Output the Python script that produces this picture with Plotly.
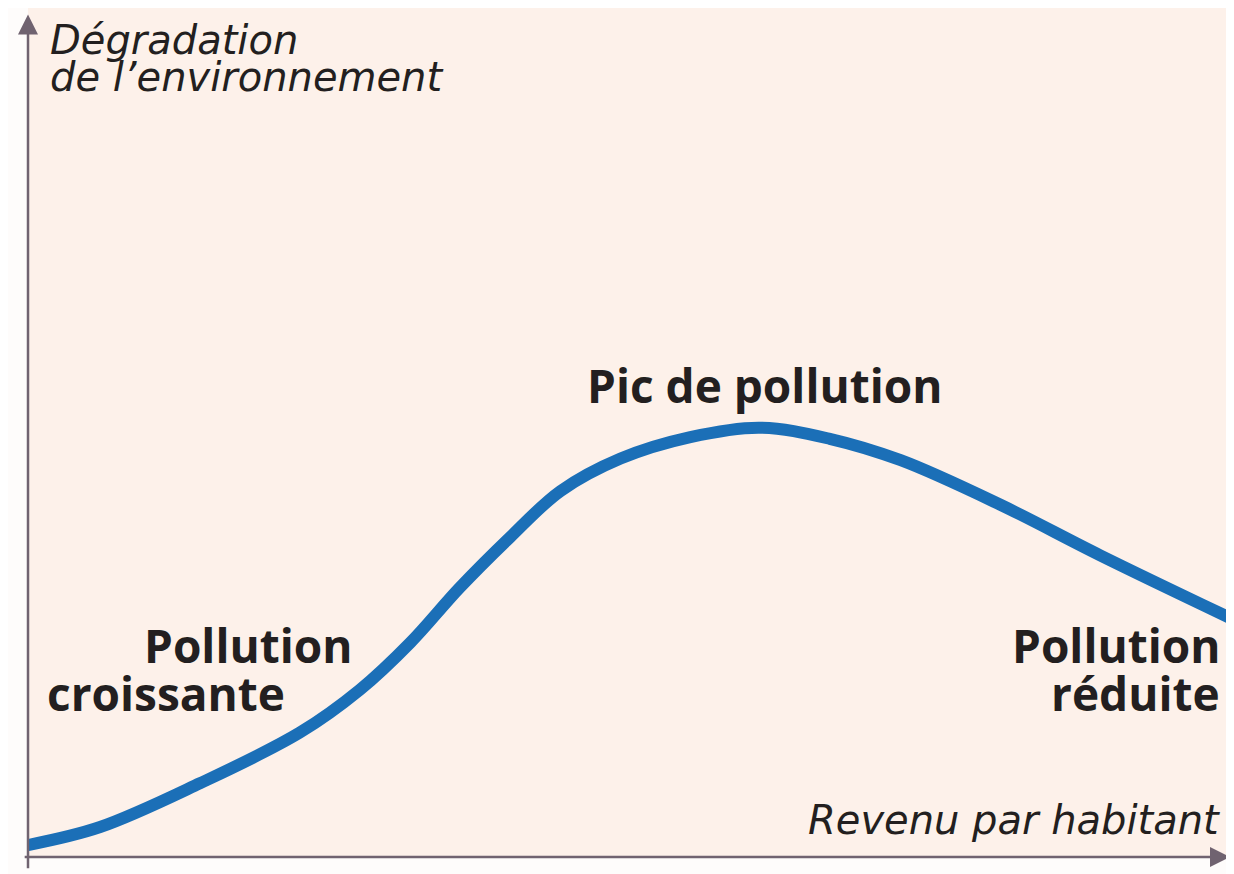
import plotly.graph_objects as go

# revenu par habitant (axe x) et dégradation de l'environnement (axe y)
revenu = [0, 6.0, 14.3, 22.6, 27.6, 31.8, 35.9, 40.1, 44.3, 49.3, 55.1, 60.9,
          66.7, 72.6, 80.9, 89.2, 100.3]
degradation = [1.4, 3.5, 8.6, 14.5, 19.5, 25.0, 31.4, 37.3, 42.7, 46.5, 49.0, 50.1,
               48.8, 46.3, 41.1, 35.2, 27.7]

titre_y = ["Dégradation", "de l’environnement"]
titre_x = "Revenu par habitant"
etiquette_pic = "Pic de pollution"
etiquette_gauche = ["Pollution", "croissante"]
etiquette_droite = ["Pollution", "réduite"]

axis_col = "#706370"
txt_col = "#231f20"
bold = dict(family="Open Sans", size=46, color=txt_col, weight="bold")
ital = dict(family="DejaVu Sans", size=40, color=txt_col, style="italic")

fig = go.Figure()
fig.add_trace(go.Scatter(x=revenu, y=degradation, mode="lines",
                         line=dict(color="#1b6fb7", width=12, shape="spline", smoothing=1.0),
                         hoverinfo="skip", cliponaxis=False))

ann = []
# axes avec flèches
ann.append(dict(x=0, y=98.3, ax=0, ay=-1.5, xref="x", yref="y", axref="x", ayref="y",
                showarrow=True, arrowhead=2, arrowsize=1.6, arrowwidth=2.5,
                arrowcolor=axis_col, text=""))
ann.append(dict(x=100.0, y=0, ax=-0.4, ay=0, xref="x", yref="y", axref="x", ayref="y",
                showarrow=True, arrowhead=2, arrowsize=1.6, arrowwidth=2.5,
                arrowcolor=axis_col, text=""))

ann.append(dict(x=1.66, y=95.3, text=titre_y[0], xanchor="left", yanchor="middle",
                showarrow=False, font=ital))
ann.append(dict(x=1.66, y=91.0, text=titre_y[1], xanchor="left", yanchor="middle",
                showarrow=False, font=ital))
ann.append(dict(x=99.3, y=4.3, text=titre_x, xanchor="right", yanchor="middle",
                showarrow=False, font=ital))

ann.append(dict(x=61.3, y=55.1, text=etiquette_pic, xanchor="center", yanchor="middle",
                showarrow=False, font=bold))
ann.append(dict(x=18.3, y=24.7, text=etiquette_gauche[0], xanchor="center", yanchor="middle",
                showarrow=False, font=bold))
ann.append(dict(x=11.5, y=19.1, text=etiquette_gauche[1], xanchor="center", yanchor="middle",
                showarrow=False, font=bold))
ann.append(dict(x=99.3, y=24.7, text=etiquette_droite[0], xanchor="right", yanchor="middle",
                showarrow=False, font=bold))
ann.append(dict(x=99.3, y=19.1, text=etiquette_droite[1], xanchor="right", yanchor="middle",
                showarrow=False, font=bold))

fig.update_layout(
    width=1226, height=866,
    margin=dict(l=20, r=4, t=0, b=17),
    paper_bgcolor="#fefcfb",
    plot_bgcolor="#fdf1ea",
    showlegend=False,
    annotations=ann,
    xaxis=dict(range=[0, 100], showgrid=False, zeroline=False, showticklabels=False,
               fixedrange=True),
    yaxis=dict(range=[0, 99.07], showgrid=False, zeroline=False, showticklabels=False,
               fixedrange=True),
)

fig.write_html("out.html", config={"displayModeBar": False})
